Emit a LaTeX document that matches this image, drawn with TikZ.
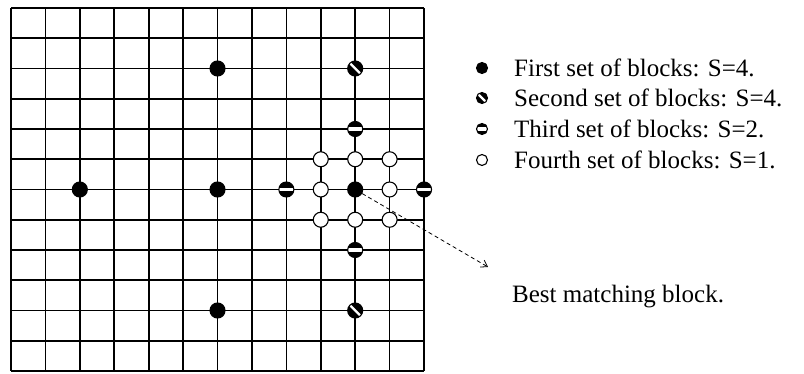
\documentclass[tikz,border=0pt]{standalone}
\usepackage{fontspec}
\setmainfont{Liberation Serif}
\usetikzlibrary{arrows.meta}
\begin{document}
\begin{tikzpicture}[x=1pt, y=-1pt, font=\fontsize{25}{29}\selectfont]
        \tikzset{
            gridLine/.style={draw=black, line width=1.7pt},
            blk/.style={circle, draw=black, line width=1.1pt, minimum width=15pt, minimum height=13.5pt, inner sep=0pt},
            firstBlk/.style={blk, fill=black},
            secondBlk/.style={blk, fill=black,
                path picture={\draw[white, line width=2.4pt] (path picture bounding box.north west) -- (path picture bounding box.south east);}},
            thirdBlk/.style={blk, fill=black,
                path picture={\fill[white] ([yshift=-1.6pt]path picture bounding box.west) rectangle ([yshift=1.6pt]path picture bounding box.east);}},
            fourthBlk/.style={blk, fill=white},
            smallBlk/.style={minimum width=11pt, minimum height=11pt},
            legendText/.style={anchor=west, inner sep=0pt},
            guide/.style={draw=black, dashed, dash pattern=on 4pt off 3pt, line width=0.8pt, -{Straight Barb[length=6pt, width=8pt]}}
        }

        \useasboundingbox (0,0) rectangle (804,374);

        % search grid, 12 x 12 blocks
        \begin{scope}[shift={(11,8)}, x=34.42pt, y=-30.25pt]
            \foreach \i in {0,...,12} {
                \draw[gridLine] (\i,0) -- (\i,12);
                \draw[gridLine] (0,\i) -- (12,\i);
            }

            % first set, S=4
            \node[firstBlk] (firstN) at (6,2) {};
            \node[firstBlk] (firstW) at (2,6) {};
            \node[firstBlk] (firstC) at (6,6) {};
            \node[firstBlk] (firstS) at (6,10) {};
            % second set, S=4
            \node[secondBlk] (secondN) at (10,2) {};
            \node[secondBlk] (secondS) at (10,10) {};
            % third set, S=2
            \node[thirdBlk] (thirdN) at (10,4) {};
            \node[thirdBlk] (thirdW) at (8,6) {};
            \node[thirdBlk] (thirdE) at (12,6) {};
            \node[thirdBlk] (thirdS) at (10,8) {};
            % fourth set, S=1
            \foreach \x/\y/\n in {9/5/a, 10/5/b, 11/5/c, 9/6/d, 11/6/e, 9/7/f, 10/7/g, 11/7/h}
                \node[fourthBlk] (fourth\n) at (\x,\y) {};
            % best match
            \node[firstBlk] (best) at (10,6) {};
        \end{scope}

        % legend
        \node[firstBlk, smallBlk] (keyFirst) at (482,68) {};
        \node[secondBlk, smallBlk] (keySecond) at (482,98) {};
        \node[thirdBlk, smallBlk] (keyThird) at (482,129) {};
        \node[fourthBlk, smallBlk] (keyFourth) at (482,160) {};
        \node[legendText] (txtFirst) at (514,68) {First set of blocks: S=4.};
        \node[legendText] (txtSecond) at (514,98) {Second set of blocks: S=4.};
        \node[legendText] (txtThird) at (514,129) {Third set of blocks: S=2.};
        \node[legendText] (txtFourth) at (514,160) {Fourth set of blocks: S=1.};

        \coordinate (bestTip) at (488,267);
        \draw[guide] (best) -- (bestTip);
        \node[legendText] (bestLabel) at (512,297) {Best matching block.};
\end{tikzpicture}
\end{document}
